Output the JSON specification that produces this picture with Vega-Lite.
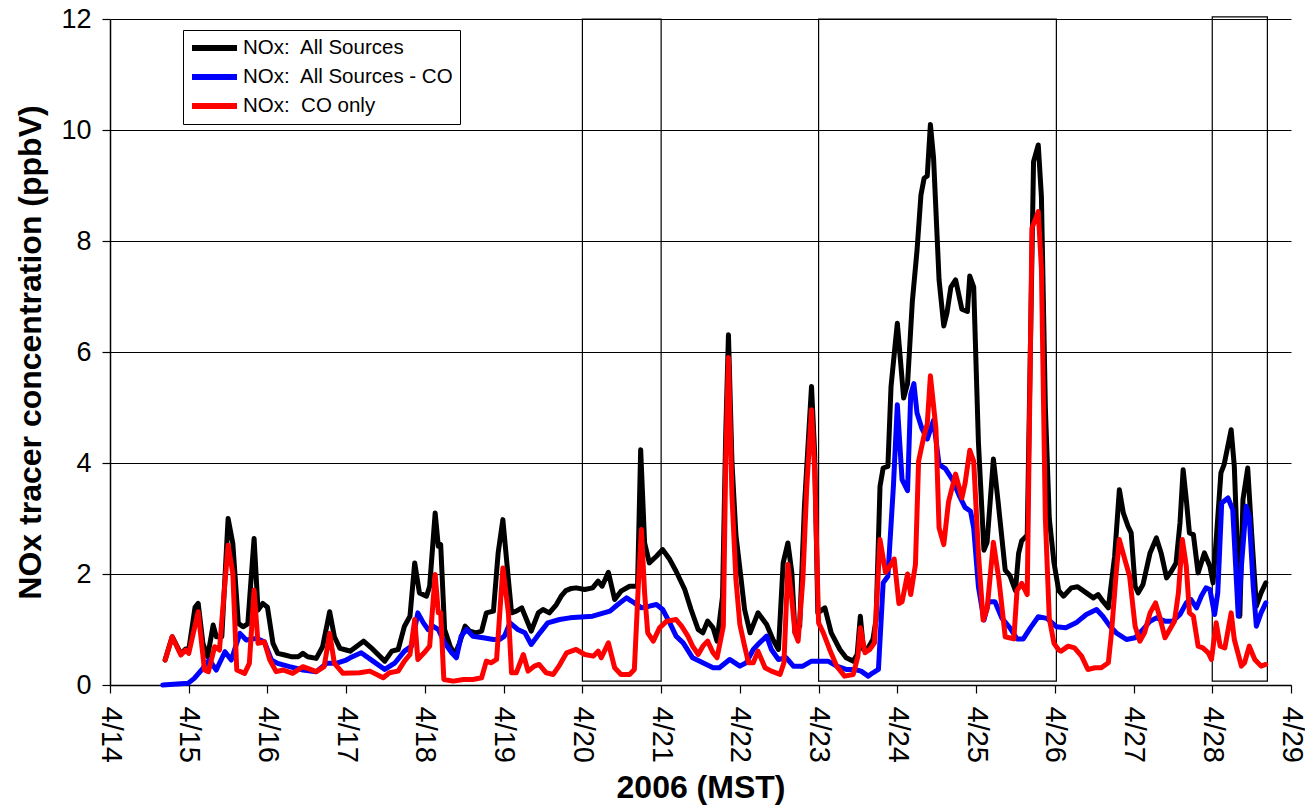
{
  "$schema": "https://vega.github.io/schema/vega-lite/v6.json",
  "width": 1181,
  "height": 666,
  "autosize": {"type": "none"},
  "padding": {"left": 110, "top": 19, "right": 14, "bottom": 124},
  "background": "white",
  "datasets": {
    "boxes": [
      {"x0": 20, "x1": 21, "y0": 0.07, "y1": 12},
      {"x0": 23, "x1": 26.02, "y0": 0.07, "y1": 12},
      {"x0": 28, "x1": 28.7, "y0": 0.07, "y1": 12.04}
    ],
    "all": [
      {"d":14.70,"v":0.45},{"d":14.79,"v":0.87},{"d":14.90,"v":0.56},{"d":14.96,"v":0.65},{"d":15.00,"v":0.63},
      {"d":15.08,"v":1.40},{"d":15.12,"v":1.47},{"d":15.18,"v":0.75},{"d":15.24,"v":0.51},{"d":15.31,"v":1.08},
      {"d":15.35,"v":0.87},{"d":15.42,"v":0.87},{"d":15.50,"v":3.00},{"d":15.56,"v":2.55},{"d":15.63,"v":1.11},
      {"d":15.69,"v":1.05},{"d":15.75,"v":1.10},{"d":15.83,"v":2.64},{"d":15.88,"v":1.35},{"d":15.94,"v":1.47},
      {"d":16.00,"v":1.40},{"d":16.07,"v":0.75},{"d":16.13,"v":0.57},{"d":16.22,"v":0.54},{"d":16.30,"v":0.51},
      {"d":16.39,"v":0.51},{"d":16.45,"v":0.57},{"d":16.51,"v":0.51},{"d":16.62,"v":0.48},{"d":16.70,"v":0.69},
      {"d":16.79,"v":1.32},{"d":16.85,"v":0.87},{"d":16.92,"v":0.66},{"d":17.00,"v":0.63},{"d":17.05,"v":0.61},
      {"d":17.22,"v":0.79},{"d":17.34,"v":0.64},{"d":17.49,"v":0.43},{"d":17.58,"v":0.61},{"d":17.66,"v":0.64},
      {"d":17.74,"v":1.06},{"d":17.81,"v":1.24},{"d":17.87,"v":2.20},{"d":17.93,"v":1.66},{"d":18.02,"v":1.60},
      {"d":18.06,"v":1.78},{"d":18.13,"v":3.10},{"d":18.17,"v":2.50},{"d":18.20,"v":2.53},{"d":18.25,"v":1.00},
      {"d":18.32,"v":0.70},{"d":18.38,"v":0.55},{"d":18.44,"v":0.76},{"d":18.51,"v":1.06},{"d":18.57,"v":0.97},
      {"d":18.65,"v":0.94},{"d":18.72,"v":0.97},{"d":18.78,"v":1.30},{"d":18.87,"v":1.33},{"d":18.93,"v":2.38},
      {"d":18.99,"v":2.98},{"d":19.06,"v":1.90},{"d":19.10,"v":1.30},{"d":19.16,"v":1.33},{"d":19.23,"v":1.39},
      {"d":19.29,"v":1.18},{"d":19.35,"v":0.97},{"d":19.44,"v":1.30},{"d":19.50,"v":1.36},{"d":19.58,"v":1.30},
      {"d":19.67,"v":1.45},{"d":19.73,"v":1.60},{"d":19.79,"v":1.70},{"d":19.86,"v":1.74},{"d":19.92,"v":1.75},
      {"d":20.03,"v":1.72},{"d":20.13,"v":1.75},{"d":20.20,"v":1.87},{"d":20.25,"v":1.78},{"d":20.33,"v":2.03},
      {"d":20.41,"v":1.54},{"d":20.49,"v":1.69},{"d":20.60,"v":1.78},{"d":20.70,"v":1.78},{"d":20.74,"v":4.24},
      {"d":20.79,"v":2.56},{"d":20.85,"v":2.20},{"d":20.94,"v":2.32},{"d":21.02,"v":2.44},{"d":21.11,"v":2.26},
      {"d":21.19,"v":2.05},{"d":21.30,"v":1.72},{"d":21.38,"v":1.36},{"d":21.47,"v":1.00},{"d":21.53,"v":0.94},
      {"d":21.59,"v":1.15},{"d":21.66,"v":1.03},{"d":21.71,"v":0.79},{"d":21.78,"v":1.60},{"d":21.82,"v":4.50},
      {"d":21.855,"v":6.31},{"d":21.90,"v":4.00},{"d":21.95,"v":2.70},{"d":22.00,"v":2.10},{"d":22.06,"v":1.36},
      {"d":22.13,"v":0.94},{"d":22.23,"v":1.30},{"d":22.34,"v":1.09},{"d":22.42,"v":0.82},{"d":22.49,"v":0.64},
      {"d":22.55,"v":2.20},{"d":22.61,"v":2.56},{"d":22.66,"v":2.02},{"d":22.70,"v":0.94},{"d":22.76,"v":1.06},
      {"d":22.82,"v":3.22},{"d":22.91,"v":5.38},{"d":22.95,"v":4.18},{"d":22.99,"v":1.30},{"d":23.08,"v":1.39},
      {"d":23.16,"v":0.94},{"d":23.27,"v":0.64},{"d":23.35,"v":0.49},{"d":23.44,"v":0.43},{"d":23.49,"v":0.55},
      {"d":23.53,"v":1.24},{"d":23.57,"v":0.64},{"d":23.63,"v":0.67},{"d":23.69,"v":0.82},{"d":23.73,"v":1.18},
      {"d":23.78,"v":3.58},{"d":23.82,"v":3.91},{"d":23.88,"v":3.94},{"d":23.92,"v":5.38},{"d":23.97,"v":6.10},
      {"d":24.00,"v":6.52},{"d":24.08,"v":5.17},{"d":24.13,"v":5.43},{"d":24.19,"v":6.90},{"d":24.25,"v":7.83},
      {"d":24.30,"v":8.83},{"d":24.34,"v":9.13},{"d":24.38,"v":9.17},{"d":24.42,"v":10.10},{"d":24.46,"v":9.50},
      {"d":24.53,"v":7.30},{"d":24.59,"v":6.47},{"d":24.63,"v":6.70},{"d":24.68,"v":7.17},{"d":24.74,"v":7.30},
      {"d":24.82,"v":6.77},{"d":24.89,"v":6.73},{"d":24.92,"v":7.37},{"d":24.97,"v":7.17},{"d":25.03,"v":4.37},
      {"d":25.10,"v":2.43},{"d":25.14,"v":2.57},{"d":25.22,"v":4.07},{"d":25.28,"v":3.30},{"d":25.37,"v":2.07},
      {"d":25.43,"v":1.97},{"d":25.50,"v":1.70},{"d":25.54,"v":2.37},{"d":25.58,"v":2.60},{"d":25.65,"v":2.70},
      {"d":25.73,"v":9.43},{"d":25.79,"v":9.73},{"d":25.83,"v":8.80},{"d":25.88,"v":5.00},{"d":25.93,"v":3.00},
      {"d":25.99,"v":2.20},{"d":26.05,"v":1.70},{"d":26.11,"v":1.60},{"d":26.21,"v":1.75},{"d":26.29,"v":1.77},
      {"d":26.40,"v":1.66},{"d":26.49,"v":1.57},{"d":26.55,"v":1.63},{"d":26.61,"v":1.51},{"d":26.68,"v":1.39},
      {"d":26.76,"v":2.32},{"d":26.82,"v":3.52},{"d":26.87,"v":3.10},{"d":26.93,"v":2.86},{"d":26.97,"v":2.74},
      {"d":27.02,"v":1.78},{"d":27.06,"v":1.66},{"d":27.12,"v":1.81},{"d":27.21,"v":2.38},{"d":27.29,"v":2.65},
      {"d":27.35,"v":2.38},{"d":27.42,"v":1.93},{"d":27.48,"v":2.05},{"d":27.54,"v":2.20},{"d":27.59,"v":2.92},
      {"d":27.63,"v":3.88},{"d":27.67,"v":3.34},{"d":27.71,"v":2.74},{"d":27.76,"v":2.71},{"d":27.82,"v":2.02},
      {"d":27.90,"v":2.38},{"d":27.97,"v":2.14},{"d":28.01,"v":1.84},{"d":28.05,"v":2.62},{"d":28.11,"v":3.82},
      {"d":28.15,"v":3.97},{"d":28.24,"v":4.60},{"d":28.28,"v":3.94},{"d":28.35,"v":1.24},{"d":28.39,"v":3.34},
      {"d":28.45,"v":3.91},{"d":28.50,"v":2.74},{"d":28.56,"v":1.42},{"d":28.62,"v":1.66},{"d":28.68,"v":1.84}
    ],
    "noco": [
      {"d":14.67,"v":0.00},{"d":14.99,"v":0.03},{"d":15.07,"v":0.12},{"d":15.18,"v":0.30},{"d":15.26,"v":0.45},
      {"d":15.35,"v":0.27},{"d":15.46,"v":0.60},{"d":15.54,"v":0.45},{"d":15.65,"v":0.93},{"d":15.73,"v":0.81},
      {"d":15.86,"v":0.84},{"d":15.96,"v":0.78},{"d":16.05,"v":0.45},{"d":16.13,"v":0.39},{"d":16.28,"v":0.33},
      {"d":16.45,"v":0.27},{"d":16.62,"v":0.24},{"d":16.75,"v":0.39},{"d":16.87,"v":0.39},{"d":17.00,"v":0.45},
      {"d":17.05,"v":0.49},{"d":17.19,"v":0.58},{"d":17.34,"v":0.43},{"d":17.49,"v":0.28},{"d":17.62,"v":0.40},
      {"d":17.74,"v":0.61},{"d":17.83,"v":0.70},{"d":17.91,"v":1.30},{"d":17.98,"v":1.12},{"d":18.04,"v":1.00},
      {"d":18.10,"v":1.06},{"d":18.17,"v":1.00},{"d":18.25,"v":0.76},{"d":18.34,"v":0.58},{"d":18.40,"v":0.49},
      {"d":18.46,"v":0.88},{"d":18.53,"v":1.00},{"d":18.61,"v":0.88},{"d":18.74,"v":0.85},{"d":18.87,"v":0.82},
      {"d":18.95,"v":0.82},{"d":19.01,"v":0.88},{"d":19.08,"v":1.12},{"d":19.18,"v":1.00},{"d":19.27,"v":0.94},
      {"d":19.35,"v":0.73},{"d":19.46,"v":0.94},{"d":19.56,"v":1.12},{"d":19.71,"v":1.18},{"d":19.84,"v":1.21},
      {"d":20.13,"v":1.24},{"d":20.35,"v":1.33},{"d":20.45,"v":1.45},{"d":20.56,"v":1.57},{"d":20.66,"v":1.48},
      {"d":20.75,"v":1.39},{"d":20.85,"v":1.42},{"d":20.94,"v":1.45},{"d":21.02,"v":1.36},{"d":21.11,"v":1.12},
      {"d":21.19,"v":0.88},{"d":21.28,"v":0.76},{"d":21.40,"v":0.49},{"d":21.53,"v":0.40},{"d":21.66,"v":0.31},
      {"d":21.74,"v":0.31},{"d":21.87,"v":0.46},{"d":22.00,"v":0.34},{"d":22.08,"v":0.40},{"d":22.17,"v":0.64},
      {"d":22.25,"v":0.76},{"d":22.34,"v":0.88},{"d":22.40,"v":0.64},{"d":22.49,"v":0.46},{"d":22.59,"v":0.49},
      {"d":22.68,"v":0.34},{"d":22.80,"v":0.34},{"d":22.91,"v":0.43},{"d":23.02,"v":0.43},{"d":23.12,"v":0.43},
      {"d":23.23,"v":0.34},{"d":23.35,"v":0.28},{"d":23.46,"v":0.28},{"d":23.54,"v":0.25},{"d":23.63,"v":0.16},
      {"d":23.69,"v":0.22},{"d":23.76,"v":0.28},{"d":23.82,"v":1.84},{"d":23.88,"v":1.96},{"d":23.95,"v":3.58},
      {"d":24.00,"v":5.05},{"d":24.06,"v":3.70},{"d":24.13,"v":3.50},{"d":24.17,"v":5.23},{"d":24.21,"v":5.43},
      {"d":24.25,"v":4.90},{"d":24.31,"v":4.63},{"d":24.38,"v":4.43},{"d":24.46,"v":4.77},{"d":24.53,"v":3.97},
      {"d":24.61,"v":3.90},{"d":24.70,"v":3.70},{"d":24.80,"v":3.37},{"d":24.86,"v":3.20},{"d":24.93,"v":3.13},
      {"d":24.97,"v":2.83},{"d":25.03,"v":1.77},{"d":25.10,"v":1.17},{"d":25.16,"v":1.50},{"d":25.24,"v":1.50},
      {"d":25.33,"v":1.20},{"d":25.43,"v":1.03},{"d":25.52,"v":0.83},{"d":25.60,"v":0.83},{"d":25.69,"v":1.03},
      {"d":25.79,"v":1.23},{"d":25.90,"v":1.20},{"d":26.02,"v":1.05},{"d":26.14,"v":1.03},{"d":26.27,"v":1.12},
      {"d":26.40,"v":1.27},{"d":26.53,"v":1.36},{"d":26.61,"v":1.24},{"d":26.70,"v":1.06},{"d":26.78,"v":0.94},
      {"d":26.91,"v":0.82},{"d":27.02,"v":0.85},{"d":27.12,"v":1.00},{"d":27.21,"v":1.15},{"d":27.29,"v":1.21},
      {"d":27.40,"v":1.15},{"d":27.50,"v":1.15},{"d":27.59,"v":1.27},{"d":27.67,"v":1.48},{"d":27.73,"v":1.54},
      {"d":27.80,"v":1.39},{"d":27.86,"v":1.60},{"d":27.92,"v":1.75},{"d":27.97,"v":1.72},{"d":28.03,"v":1.27},
      {"d":28.07,"v":1.66},{"d":28.12,"v":3.28},{"d":28.20,"v":3.37},{"d":28.26,"v":3.16},{"d":28.33,"v":1.24},
      {"d":28.37,"v":2.14},{"d":28.43,"v":3.22},{"d":28.47,"v":3.04},{"d":28.52,"v":1.78},{"d":28.56,"v":1.06},
      {"d":28.62,"v":1.30},{"d":28.68,"v":1.48}
    ],
    "co": [
      {"d":14.70,"v":0.45},{"d":14.79,"v":0.87},{"d":14.90,"v":0.54},{"d":14.96,"v":0.63},{"d":15.00,"v":0.57},
      {"d":15.12,"v":1.32},{"d":15.20,"v":0.27},{"d":15.25,"v":0.24},{"d":15.33,"v":0.69},{"d":15.39,"v":0.63},
      {"d":15.50,"v":2.52},{"d":15.56,"v":2.01},{"d":15.61,"v":0.27},{"d":15.71,"v":0.21},{"d":15.77,"v":0.39},
      {"d":15.83,"v":1.71},{"d":15.88,"v":0.75},{"d":15.96,"v":0.78},{"d":16.03,"v":0.45},{"d":16.11,"v":0.24},
      {"d":16.20,"v":0.27},{"d":16.32,"v":0.21},{"d":16.45,"v":0.33},{"d":16.62,"v":0.24},{"d":16.72,"v":0.33},
      {"d":16.79,"v":0.93},{"d":16.85,"v":0.39},{"d":16.96,"v":0.21},{"d":17.17,"v":0.22},{"d":17.30,"v":0.25},
      {"d":17.47,"v":0.13},{"d":17.55,"v":0.22},{"d":17.66,"v":0.25},{"d":17.74,"v":0.43},{"d":17.81,"v":0.55},
      {"d":17.87,"v":1.18},{"d":17.91,"v":0.46},{"d":17.99,"v":0.58},{"d":18.06,"v":0.70},{"d":18.13,"v":1.99},
      {"d":18.17,"v":1.30},{"d":18.20,"v":1.30},{"d":18.24,"v":0.10},{"d":18.36,"v":0.07},{"d":18.49,"v":0.10},
      {"d":18.61,"v":0.10},{"d":18.72,"v":0.13},{"d":18.78,"v":0.43},{"d":18.84,"v":0.40},{"d":18.91,"v":0.46},
      {"d":18.99,"v":2.11},{"d":19.06,"v":1.30},{"d":19.10,"v":0.22},{"d":19.16,"v":0.22},{"d":19.25,"v":0.55},
      {"d":19.31,"v":0.25},{"d":19.39,"v":0.34},{"d":19.45,"v":0.37},{"d":19.54,"v":0.22},{"d":19.63,"v":0.19},
      {"d":19.71,"v":0.36},{"d":19.80,"v":0.58},{"d":19.92,"v":0.64},{"d":20.03,"v":0.55},{"d":20.14,"v":0.52},
      {"d":20.20,"v":0.61},{"d":20.24,"v":0.49},{"d":20.33,"v":0.76},{"d":20.41,"v":0.31},{"d":20.49,"v":0.19},
      {"d":20.60,"v":0.19},{"d":20.66,"v":0.28},{"d":20.71,"v":1.78},{"d":20.75,"v":2.80},{"d":20.79,"v":1.66},
      {"d":20.83,"v":0.94},{"d":20.90,"v":0.79},{"d":20.98,"v":1.03},{"d":21.07,"v":1.15},{"d":21.19,"v":1.18},
      {"d":21.26,"v":1.06},{"d":21.34,"v":0.88},{"d":21.40,"v":0.70},{"d":21.47,"v":0.55},{"d":21.53,"v":0.70},
      {"d":21.59,"v":0.79},{"d":21.66,"v":0.58},{"d":21.71,"v":0.49},{"d":21.79,"v":1.06},{"d":21.82,"v":4.00},
      {"d":21.855,"v":5.90},{"d":21.90,"v":3.40},{"d":21.95,"v":1.90},{"d":22.00,"v":1.09},{"d":22.06,"v":0.70},
      {"d":22.11,"v":0.40},{"d":22.17,"v":0.40},{"d":22.23,"v":0.61},{"d":22.32,"v":0.31},{"d":22.40,"v":0.25},
      {"d":22.51,"v":0.19},{"d":22.56,"v":0.40},{"d":22.61,"v":2.17},{"d":22.66,"v":1.54},{"d":22.70,"v":0.94},
      {"d":22.74,"v":0.79},{"d":22.80,"v":1.90},{"d":22.85,"v":3.58},{"d":22.91,"v":4.96},{"d":22.95,"v":3.88},
      {"d":23.00,"v":1.12},{"d":23.06,"v":0.94},{"d":23.14,"v":0.64},{"d":23.23,"v":0.34},{"d":23.33,"v":0.16},
      {"d":23.44,"v":0.19},{"d":23.50,"v":0.52},{"d":23.53,"v":1.03},{"d":23.59,"v":0.58},{"d":23.65,"v":0.64},
      {"d":23.71,"v":0.76},{"d":23.78,"v":2.62},{"d":23.85,"v":2.03},{"d":23.92,"v":2.17},{"d":23.96,"v":2.27},
      {"d":24.02,"v":1.47},{"d":24.06,"v":1.50},{"d":24.13,"v":2.00},{"d":24.17,"v":1.63},{"d":24.23,"v":2.17},
      {"d":24.27,"v":4.03},{"d":24.34,"v":4.50},{"d":24.38,"v":4.70},{"d":24.42,"v":5.57},{"d":24.49,"v":4.63},
      {"d":24.53,"v":2.83},{"d":24.59,"v":2.53},{"d":24.65,"v":3.30},{"d":24.74,"v":3.80},{"d":24.82,"v":3.37},
      {"d":24.86,"v":3.63},{"d":24.92,"v":4.23},{"d":24.97,"v":4.03},{"d":25.03,"v":2.37},{"d":25.09,"v":1.17},
      {"d":25.14,"v":1.37},{"d":25.22,"v":2.57},{"d":25.29,"v":1.90},{"d":25.37,"v":0.87},{"d":25.48,"v":0.83},
      {"d":25.52,"v":1.70},{"d":25.58,"v":1.83},{"d":25.65,"v":1.63},{"d":25.71,"v":8.23},{"d":25.79,"v":8.53},
      {"d":25.83,"v":7.50},{"d":25.88,"v":3.00},{"d":25.93,"v":1.20},{"d":25.99,"v":0.75},{"d":26.05,"v":0.63},
      {"d":26.08,"v":0.61},{"d":26.17,"v":0.70},{"d":26.25,"v":0.67},{"d":26.34,"v":0.52},{"d":26.42,"v":0.28},
      {"d":26.51,"v":0.31},{"d":26.59,"v":0.31},{"d":26.68,"v":0.40},{"d":26.72,"v":0.94},{"d":26.78,"v":2.02},
      {"d":26.82,"v":2.62},{"d":26.89,"v":2.26},{"d":26.95,"v":1.96},{"d":27.02,"v":1.06},{"d":27.08,"v":0.79},
      {"d":27.14,"v":0.94},{"d":27.21,"v":1.30},{"d":27.28,"v":1.48},{"d":27.33,"v":1.24},{"d":27.40,"v":0.85},
      {"d":27.46,"v":1.00},{"d":27.52,"v":1.15},{"d":27.57,"v":1.66},{"d":27.62,"v":2.62},{"d":27.67,"v":2.14},
      {"d":27.71,"v":1.30},{"d":27.76,"v":1.24},{"d":27.82,"v":0.70},{"d":27.88,"v":0.67},{"d":27.95,"v":0.58},
      {"d":27.99,"v":0.46},{"d":28.05,"v":1.12},{"d":28.10,"v":0.70},{"d":28.16,"v":0.67},{"d":28.24,"v":1.30},
      {"d":28.28,"v":0.82},{"d":28.37,"v":0.34},{"d":28.41,"v":0.40},{"d":28.47,"v":0.70},{"d":28.54,"v":0.46},
      {"d":28.62,"v":0.34},{"d":28.68,"v":0.37}
    ]
  },
  "layer": [
    {
      "data": {"name": "boxes"},
      "mark": {"type": "rect", "filled": false, "stroke": "black", "strokeWidth": 1.2},
      "encoding": {
        "x": {"field": "x0", "type": "quantitative"},
        "x2": {"field": "x1"},
        "y": {"field": "y0", "type": "quantitative"},
        "y2": {"field": "y1"}
      }
    },
    {
      "data": {"name": "all"},
      "mark": {"type": "line", "strokeWidth": 5, "strokeJoin": "round", "strokeCap": "round"},
      "encoding": {
        "x": {"field": "d", "type": "quantitative"},
        "y": {"field": "v", "type": "quantitative"},
        "color": {"datum": "NOx:\u00a0 All Sources", "type": "nominal"}
      }
    },
    {
      "data": {"name": "noco"},
      "mark": {"type": "line", "strokeWidth": 5, "strokeJoin": "round", "strokeCap": "round"},
      "encoding": {
        "x": {"field": "d", "type": "quantitative"},
        "y": {"field": "v", "type": "quantitative"},
        "color": {"datum": "NOx:\u00a0 All Sources - CO", "type": "nominal"}
      }
    },
    {
      "data": {"name": "co"},
      "mark": {"type": "line", "strokeWidth": 5, "strokeJoin": "round", "strokeCap": "round"},
      "encoding": {
        "x": {"field": "d", "type": "quantitative"},
        "y": {"field": "v", "type": "quantitative"},
        "color": {"datum": "NOx:\u00a0 CO only", "type": "nominal"}
      }
    }
  ],
  "resolve": {"scale": {"x": "shared", "y": "shared", "color": "shared"}},
  "encoding": {
    "x": {
      "field": "d",
      "type": "quantitative",
      "scale": {"domain": [14, 29], "nice": false, "zero": false},
      "axis": {
        "title": "2006 (MST)",
        "values": [14, 15, 16, 17, 18, 19, 20, 21, 22, 23, 24, 25, 26, 27, 28, 29],
        "labelExpr": "'4/' + datum.value",
        "labelAngle": 90,
        "labelAlign": "left",
        "labelBaseline": "middle",
        "labelFontSize": 29,
        "grid": false,
        "tickSize": 8,
        "labelPadding": 13,
        "titlePadding": 10
      }
    },
    "y": {
      "field": "v",
      "type": "quantitative",
      "scale": {"domain": [0, 12], "nice": false},
      "axis": {
        "title": "NOx tracer concentration (ppbV)",
        "values": [0, 2, 4, 6, 8, 10, 12],
        "grid": true,
        "tickSize": 8,
        "labelFontSize": 27,
        "labelPadding": 11,
        "titlePadding": 13
      }
    },
    "color": {
      "type": "nominal",
      "scale": {
        "domain": ["NOx:\u00a0 All Sources", "NOx:\u00a0 All Sources - CO", "NOx:\u00a0 CO only"],
        "range": ["#000000", "#0000ff", "#ff0000"]
      },
      "legend": {
        "orient": "none",
        "legendX": 73,
        "legendY": 11,
        "title": null
      }
    }
  },
  "config": {
    "view": {"stroke": null},
    "font": "Liberation Sans",
    "axis": {
      "labelFont": "Liberation Sans",
      "labelColor": "black",
      "titleFont": "Liberation Sans",
      "titleFontSize": 32,
      "titleFontWeight": "bold",
      "titleColor": "black",
      "domainColor": "black",
      "domainWidth": 1.5,
      "tickColor": "black",
      "tickWidth": 1.2,
      "gridColor": "black",
      "gridWidth": 1,
      "gridOpacity": 1
    },
    "legend": {
      "strokeColor": "black",
      "fillColor": "white",
      "padding": 6,
      "symbolType": "M-2.5,0H2.5",
      "symbolSize": 324,
      "symbolStrokeWidth": 6,
      "symbolOffset": 13.5,
      "labelFont": "Liberation Sans",
      "labelFontSize": 20.5,
      "labelColor": "black",
      "labelLimit": 400,
      "rowPadding": 5,
      "labelOffset": 16.5
    }
  }
}
